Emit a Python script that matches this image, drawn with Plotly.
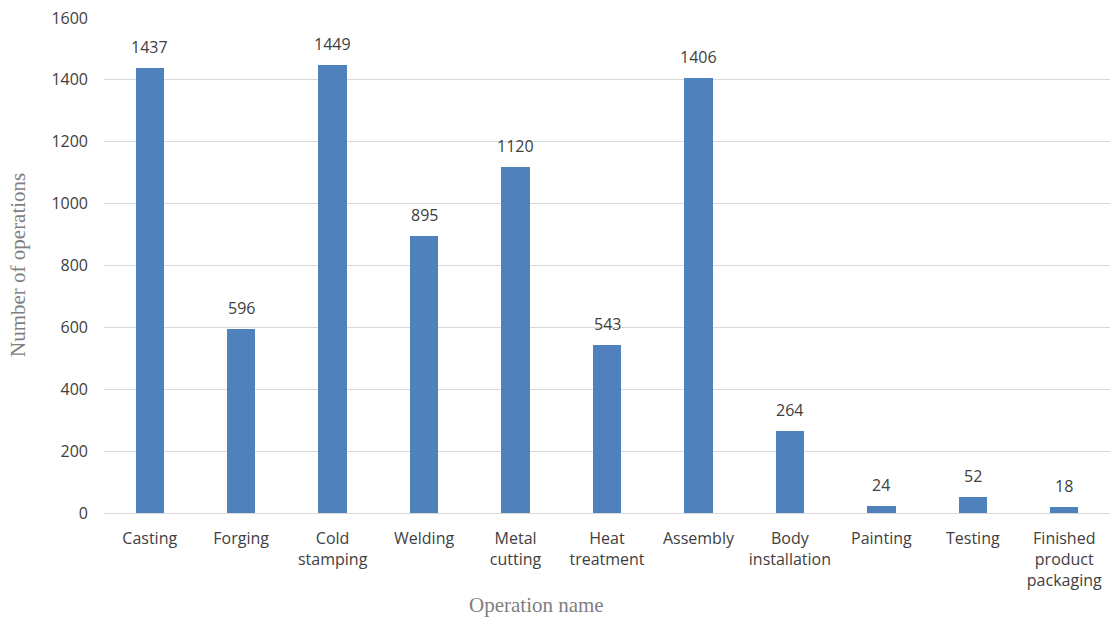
import plotly.graph_objects as go

operations = ["Casting", "Forging", "Cold<br>stamping", "Welding", "Metal<br>cutting",
              "Heat<br>treatment", "Assembly", "Body<br>installation", "Painting",
              "Testing", "Finished<br>product<br>packaging"]
counts = [1437, 596, 1449, 895, 1120, 543, 1406, 264, 24, 52, 18]
y_ticks = [0, 200, 400, 600, 800, 1000, 1200, 1400, 1600]

fig = go.Figure(go.Bar(
    x=operations, y=counts,
    marker=dict(color="#4f81bd", line=dict(width=0)),
    width=0.31,
))

# value labels above each bar
for name, c in zip(operations, counts):
    fig.add_annotation(x=name, y=c, text=str(c), showarrow=False,
                       yanchor="bottom", yshift=8,
                       font=dict(family="Open Sans, sans-serif", size=16, color="#404040"))

fig.update_layout(
    width=1110, height=619,
    margin=dict(l=104, r=0, t=18, b=106),
    paper_bgcolor="white", plot_bgcolor="white",
    showlegend=False, bargap=0,
    xaxis=dict(
        tickfont=dict(family="Open Sans, sans-serif", size=16, color="#404040"),
        showline=True, linecolor="#d9d9d9", linewidth=1,
        ticks="", showgrid=False, ticklabelstandoff=11,
    ),
    yaxis=dict(
        range=[0, 1600], tickvals=y_ticks,
        tickfont=dict(family="Open Sans, sans-serif", size=16, color="#404040"),
        showgrid=True, gridcolor="#d9d9d9", gridwidth=1,
        zeroline=False, ticks="", ticklen=0, ticklabelstandoff=15,
    ),
)

# axis titles placed by pixel position, converted to paper units
plot_w = 1110 - 104
plot_h = 619 - 18 - 106
title_font = dict(family="Liberation Serif, serif", size=21, color="#7f7f7f")
fig.add_annotation(text="Operation name", x=(536 - 104) / plot_w, y=(513 - 605) / plot_h,
                   xref="paper", yref="paper", showarrow=False,
                   xanchor="center", yanchor="middle", font=title_font)
fig.add_annotation(text="Number of operations", x=(18 - 104) / plot_w, y=(513 - 265) / plot_h,
                   xref="paper", yref="paper", showarrow=False, textangle=-90,
                   xanchor="center", yanchor="middle", font=title_font)

fig.write_html("out.html")
